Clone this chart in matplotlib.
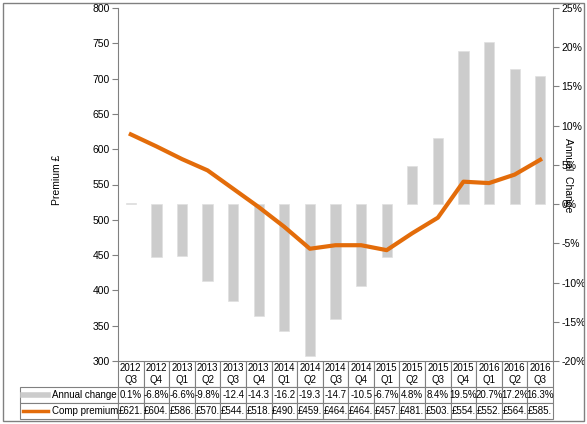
import matplotlib.pyplot as plt
from matplotlib.lines import Line2D
from matplotlib.patches import Rectangle
from matplotlib.ticker import FuncFormatter

plt.rcParams['font.family'] = ['Liberation Sans', 'DejaVu Sans']

quarters = ["2012\nQ3", "2012\nQ4", "2013\nQ1", "2013\nQ2", "2013\nQ3", "2013\nQ4",
            "2014\nQ1", "2014\nQ2", "2014\nQ3", "2014\nQ4", "2015\nQ1", "2015\nQ2",
            "2015\nQ3", "2015\nQ4", "2016\nQ1", "2016\nQ2", "2016\nQ3"]
annual_change = [0.1, -6.8, -6.6, -9.8, -12.4, -14.3, -16.2, -19.3, -14.7, -10.5,
                 -6.7, 4.8, 8.4, 19.5, 20.7, 17.2, 16.3]
comp_premium = [621, 604, 586, 570, 544, 518, 490, 459, 464, 464, 457, 481, 503,
                554, 552, 564, 585]

W, H = 587, 424
orange = "#E36C0A"
grey_bar = "#CCCCCC"
edge = "#808080"

fig = plt.figure(figsize=(W / 100, H / 100), dpi=100)
ax = fig.add_axes([118 / W, 1 - 361 / H, (553 - 118) / W, (361 - 8) / H])
ax2 = ax.twinx()
ax.set_zorder(ax2.get_zorder() + 1)
ax.patch.set_visible(False)

x = list(range(len(quarters)))
ax2.bar(x, annual_change, width=0.4, color=grey_bar, edgecolor="#E0E0E0", linewidth=0.5)
ax.plot(x, comp_premium, color=orange, linewidth=3, solid_joinstyle="round")

ax.set_xlim(-0.5, len(quarters) - 0.5)
ax.set_ylim(300, 800)
ax.set_yticks(range(300, 801, 50))
ax2.set_ylim(-20, 25)
ax2.set_yticks(range(-20, 26, 5))
ax2.yaxis.set_major_formatter(FuncFormatter(lambda v, p: f"{v:.0f}%"))
ax.set_xticks([])

for a in (ax, ax2):
    for s in a.spines.values():
        s.set_visible(False)
    a.tick_params(axis="y", labelsize=7.5, color=edge, length=4, width=0.8, pad=2)
ax.spines["left"].set_visible(True)
ax.spines["left"].set_color(edge)
ax2.spines["right"].set_visible(True)
ax2.spines["right"].set_color(edge)

fig.text(57 / W, 1 - 180 / H, "Premium £", rotation=90, fontsize=7.5,
         ha="center", va="center")
fig.text(568 / W, 1 - 175 / H, "Annual  Change", rotation=-90, fontsize=7.5,
         ha="center", va="center")

ann_txt = [f"{v:.1f}%"[:5] for v in annual_change]
prem_txt = [f"£{v:.1f}"[:5] for v in comp_premium]

rows = [[""] + quarters, [""] + ann_txt, [""] + prem_txt]
tbl = ax.table(cellText=rows, cellLoc="center",
               bbox=[(20 - 118) / 435, -(419 - 361) / 353, (553 - 20) / 435, 58 / 353])
tbl.auto_set_font_size(False)
tbl.set_fontsize(7)
ncol = len(quarters)
for (r, c), cell in tbl.get_celld().items():
    cell.set_edgecolor(edge)
    cell.set_linewidth(0.8)
    cell.set_height(26 if r == 0 else 16)
    cell.set_width(98 if c == 0 else 435 / ncol)
    cell.PAD = 0.02
tbl[0, 0].visible_edges = ""

# legend swatches in the row label cells
fig.add_artist(Line2D([23 / W, 48 / W], [1 - 395 / H] * 2, color=grey_bar, linewidth=4))
fig.add_artist(Line2D([23 / W, 48 / W], [1 - 411 / H] * 2, color=orange, linewidth=2.5))
fig.text(52 / W, 1 - 395 / H, "Annual change", fontsize=7, va="center")
fig.text(52 / W, 1 - 411 / H, "Comp premium", fontsize=7, va="center")

fig.add_artist(Rectangle((3 / W, 3 / H), 581 / W, 418 / H, fill=False,
                         edgecolor=edge, linewidth=1))

fig.savefig("out.png", dpi=100)
